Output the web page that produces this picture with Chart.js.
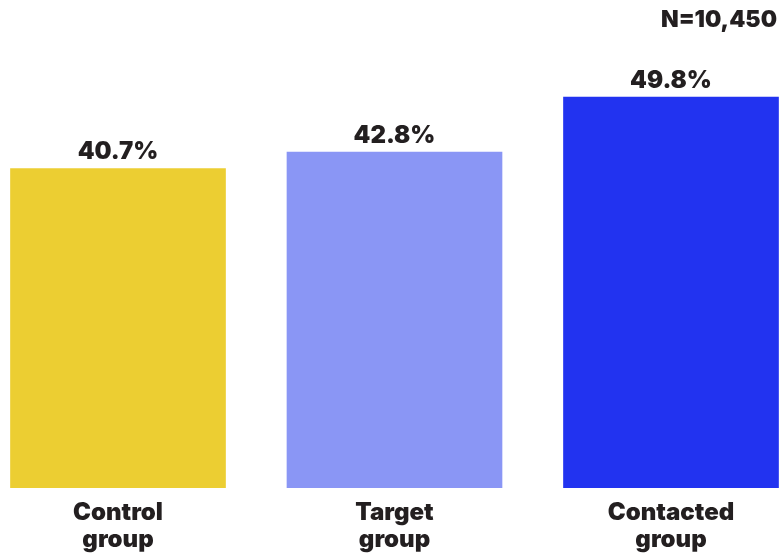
<!DOCTYPE html>
<html>
<head>
<meta charset="utf-8">
<script src="https://cdn.jsdelivr.net/npm/chart.js@4/dist/chart.umd.min.js"></script>
<style>
  html, body { margin: 0; padding: 0; background: #fff; }
  #wrap { width: 780px; height: 553px; position: relative; }
</style>
</head>
<body>
<div id="wrap"><canvas id="chart"></canvas></div>
<script>
// data
var groups = [["Control", "group"], ["Target", "group"], ["Contacted", "group"]];
var shares = [40.7, 42.8, 49.8];
var bar_colors = ["#ECCE32", "#8A96F5", "#2233F0"];
var sample_note = "N=10,450";

var ink = "#231F20";
var heavy = "Inter, 'DejaVu Sans', sans-serif";

// value labels above bars + N in the corner
var labels_plugin = {
	id: "labels_plugin",
	afterDatasetsDraw: function(chart) {
		var ctx = chart.ctx;
		var meta = chart.getDatasetMeta(0);
		ctx.save();
		ctx.fillStyle = ink;
		ctx.font = "900 24px " + heavy;
		ctx.textAlign = "center";
		ctx.textBaseline = "alphabetic";
		meta.data.forEach(function(bar, i) {
			ctx.fillText(shares[i].toFixed(1) + "%", bar.x, bar.y - 9);
		});
		ctx.font = "900 23px " + heavy;
		ctx.textAlign = "right";
		ctx.fillText(sample_note, 777, 27);
		ctx.restore();
	}
};

var chart_ctx = document.getElementById("chart");
var bar_chart = new Chart(chart_ctx, {
	type: "bar",
	data: {
		labels: groups,
		datasets: [{
			data: shares,
			backgroundColor: bar_colors,
			borderWidth: 0,
			barPercentage: 0.78,
			categoryPercentage: 1,
			clip: false
		}]
	},
	options: {
		responsive: true,
		maintainAspectRatio: false,
		animation: false,
		layout: { padding: { left: 118, right: 109, top: 56, bottom: 0 } },
		plugins: { legend: { display: false }, tooltip: { enabled: false } },
		scales: {
			x: {
				offset: false,
				grid: { display: false },
				border: { display: false },
				ticks: {
					color: ink,
					padding: 3,
					maxRotation: 0,
					font: { family: heavy, size: 24, weight: 900, lineHeight: 1.12 }
				},
				afterFit: function(scale) { scale.height = 65; }
			},
			y: {
				display: false,
				min: 0,
				max: 55
			}
		}
	},
	plugins: [labels_plugin]
});
</script>
</body>
</html>
